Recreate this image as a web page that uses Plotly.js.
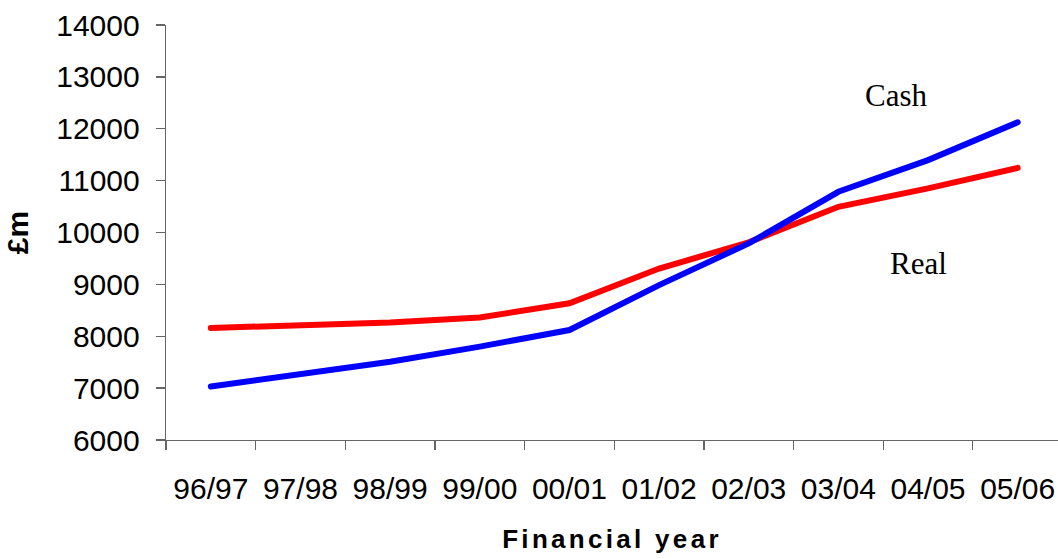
<!DOCTYPE html>
<html>
<head>
<meta charset="utf-8">
<script src="https://cdn.plot.ly/plotly-3.0.1.min.js"></script>
<style>
html, body { margin: 0; padding: 0; background: #fff; }
#chart { width: 1058px; height: 559px; }
.xtitle { letter-spacing: 3.3px; }
.js-line { stroke-linecap: round; }
</style>
</head>
<body>
<div id="chart"></div>
<script>
const years = ["96/97", "97/98", "98/99", "99/00", "00/01", "01/02", "02/03", "03/04", "04/05", "05/06"];
const cash = [7030, 7265, 7510, 7800, 8120, 8985, 9790, 10785, 11395, 12125];
const real = [8160, 8215, 8265, 8360, 8635, 9305, 9810, 10495, 10850, 11245];
const yTicks = [6000, 7000, 8000, 9000, 10000, 11000, 12000, 13000, 14000];

const traces = [
  { x: years, y: real, name: "Real", type: "scatter", mode: "lines",
    line: { color: "#ff0000", width: 6 } },
  { x: years, y: cash, name: "Cash", type: "scatter", mode: "lines",
    line: { color: "#0000ff", width: 6 } }
];

const layout = {
  width: 1058, height: 559,
  margin: { l: 166, r: 0, t: 25, b: 119 },
  paper_bgcolor: "#ffffff", plot_bgcolor: "#ffffff",
  showlegend: false,
  font: { family: "Liberation Sans, Arial, sans-serif", color: "#000" },
  xaxis: {
    type: "category", range: [-0.5, 9.45],
    showline: true, linecolor: "#666", linewidth: 1.3,
    ticks: "outside", ticklen: 9, tickwidth: 1.3, tickcolor: "#666",
    tickson: "boundaries", showgrid: false, zeroline: false,
    tickfont: { size: 30, family: "Liberation Sans, Arial, sans-serif" },
    ticklabelstandoff: 22,
    title: { text: "Financial year", standoff: 25,
      font: { size: 26, family: "Liberation Sans, Arial, sans-serif", weight: "bold" } }
  },
  yaxis: {
    range: [6000, 14000], tickvals: yTicks, ticktext: yTicks.map(String),
    showline: true, linecolor: "#666", linewidth: 1.3,
    ticks: "outside", ticklen: 9, tickwidth: 1.3, tickcolor: "#666",
    showgrid: false, zeroline: false,
    tickfont: { size: 30, family: "Liberation Sans, Arial, sans-serif" },
    ticklabelstandoff: 10,
    title: { text: "£m", standoff: 18,
      font: { size: 30, family: "Liberation Sans, Arial, sans-serif", weight: "bold" } }
  },
  annotations: [
    { text: "Cash", xref: "paper", yref: "paper", x: 0.819, y: 0.831,
      xanchor: "center", yanchor: "middle",
      showarrow: false, font: { family: "Liberation Serif, Times New Roman, serif", size: 31, color: "#000" } },
    { text: "Real", xref: "paper", yref: "paper", x: 0.844, y: 0.4265,
      xanchor: "center", yanchor: "middle",
      showarrow: false, font: { family: "Liberation Serif, Times New Roman, serif", size: 31, color: "#000" } }
  ]
};

Plotly.newPlot("chart", traces, layout, { displayModeBar: false, staticPlot: true });
</script>
</body>
</html>
